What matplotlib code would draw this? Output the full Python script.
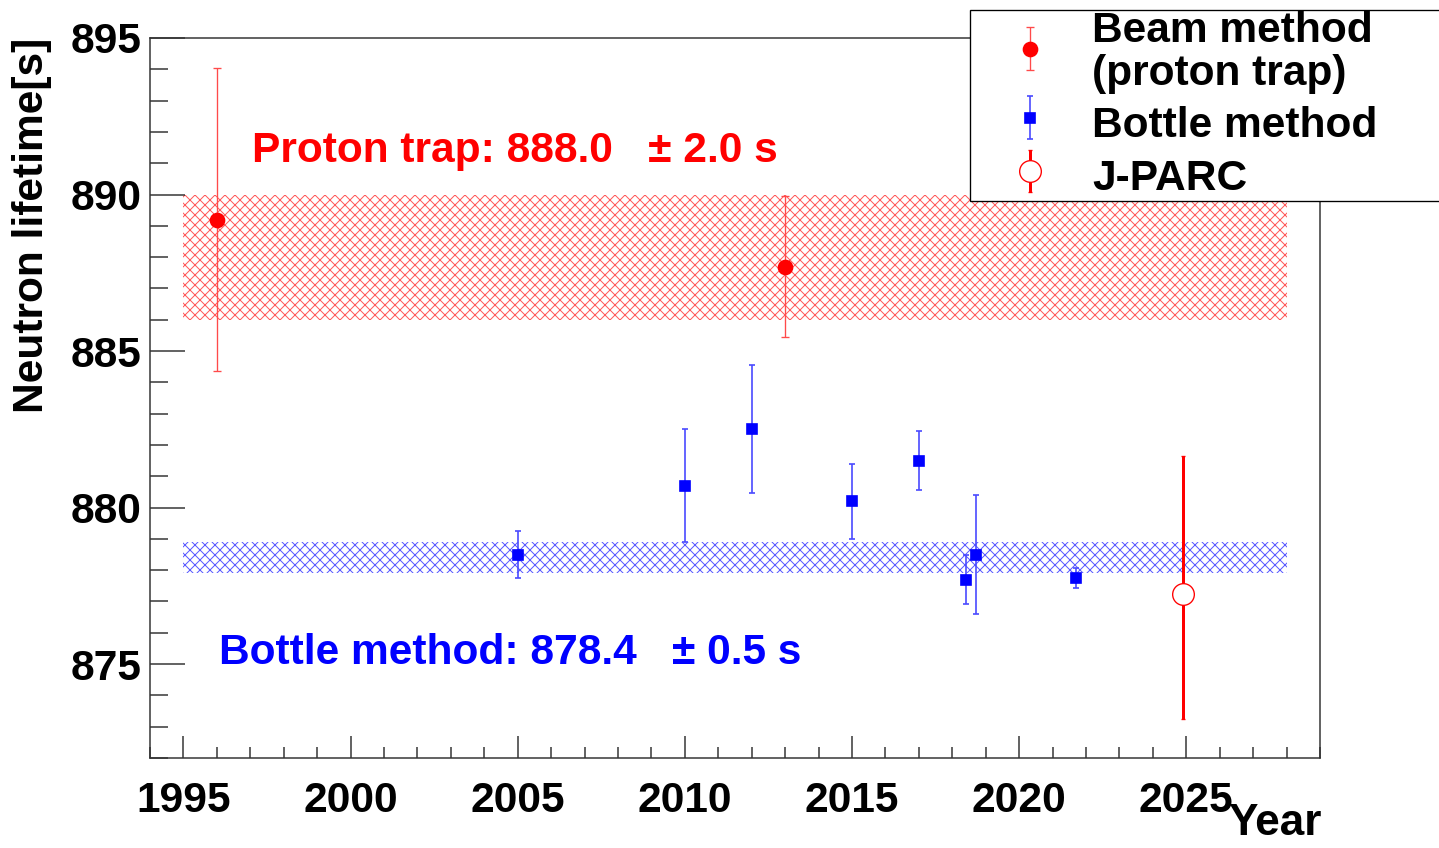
"""
Neutron lifetime measurements vs year: beam (proton trap), bottle and J-PARC,
with the proton-trap and bottle averages drawn as hatched bands.
"""

import matplotlib
matplotlib.use("Agg")
import matplotlib.pyplot as plt
from matplotlib.ticker import MultipleLocator

# --- data -------------------------------------------------------------------
beam_year = [1996.0, 2013.0]
beam_tau = [889.2, 887.7]
beam_err = [4.85, 2.25]

bottle_year = [2005.0, 2010.0, 2012.0, 2015.0, 2017.0, 2018.4, 2018.7, 2021.7]
bottle_tau = [878.5, 880.7, 882.5, 880.2, 881.5, 877.7, 878.5, 877.75]
bottle_err = [0.75, 1.8, 2.05, 1.2, 0.93, 0.77, 1.9, 0.33]

jparc_year = [2024.9]
jparc_tau = [877.25]
jparc_err_lo = [4.0]
jparc_err_hi = [4.4]

# averages shown as bands
proton_mean, proton_err = 888.0, 2.0
bottle_mean, bottle_err_avg = 878.4, 0.5
band_x = [1995, 2028]

# --- style ------------------------------------------------------------------
DPI = 120
FONT = "Liberation Sans"
plt.rcParams["font.family"] = [FONT, "DejaVu Sans"]
plt.rcParams["font.weight"] = "bold"
plt.rcParams["hatch.linewidth"] = 0.6
AXCOL = "#333333"
FS = 25.5

fig = plt.figure(figsize=(1439 / DPI, 848 / DPI), dpi=DPI)
ax = fig.add_axes([150 / 1439, 90 / 848, 1170 / 1439, 720 / 848])

# bands
ax.fill_between(band_x, proton_mean - proton_err, proton_mean + proton_err,
                facecolor="none", edgecolor="#ff5a5a", hatch="xxxx", linewidth=0, zorder=1)
ax.fill_between(band_x, bottle_mean - bottle_err_avg, bottle_mean + bottle_err_avg,
                facecolor="none", edgecolor="#5a5aff", hatch="xxxx", linewidth=0, zorder=1)

# points
h_beam = ax.errorbar(beam_year, beam_tau, yerr=beam_err, fmt="o", color="red",
                     ecolor="#ff4a4a", elinewidth=0.8, capsize=2.2, capthick=0.8,
                     markersize=8.4, zorder=3)
h_bottle = ax.errorbar(bottle_year, bottle_tau, yerr=bottle_err, fmt="s", color="blue",
                       ecolor="#4a4aff", elinewidth=1.0, capsize=1.9, capthick=1.0,
                       markersize=6, zorder=3)
h_jparc = ax.errorbar(jparc_year, jparc_tau, yerr=[jparc_err_lo, jparc_err_hi], fmt="o",
                      color="red", markerfacecolor="white", markeredgecolor="red",
                      markeredgewidth=0.8, ecolor="red", elinewidth=1.8, capsize=1.3,
                      capthick=1.8, markersize=13, zorder=3)

ax.text(1997.05, 891.05, f"Proton trap: {proton_mean:.1f}   \u00b1 {proton_err:.1f} s",
        color="red", fontsize=FS, fontweight="bold", va="baseline", ha="left")
ax.text(1996.05, 875.0, f"Bottle method: {bottle_mean:.1f}   \u00b1 {bottle_err_avg:.1f} s",
        color="blue", fontsize=FS, fontweight="bold", va="baseline", ha="left")

# axes
ax.set_xlim(1994, 2029)
ax.set_ylim(872, 895)
ax.xaxis.set_major_locator(MultipleLocator(5))
ax.xaxis.set_minor_locator(MultipleLocator(1))
ax.yaxis.set_major_locator(MultipleLocator(5))
ax.yaxis.set_minor_locator(MultipleLocator(1))
ax.tick_params(axis="both", which="both", direction="in", color=AXCOL,
               top=False, right=False, labelsize=FS)
ax.tick_params(axis="y", which="major", length=21, width=0.9, pad=5)
ax.tick_params(axis="y", which="minor", length=10.8, width=0.9)
ax.tick_params(axis="x", which="major", length=13, width=0.9, pad=14)
ax.tick_params(axis="x", which="minor", length=6.6, width=0.9)
for lab in ax.get_xticklabels() + ax.get_yticklabels():
    lab.set_fontweight("bold")
for sp in ax.spines.values():
    sp.set_color(AXCOL)
    sp.set_linewidth(0.9)

ax.set_ylabel("Neutron lifetime[s]", fontsize=FS, fontweight="bold", loc="top")
ax.yaxis.set_label_coords(-0.084, 1.0)
ax.set_xlabel("Year", fontsize=26.5, fontweight="bold", loc="right")
ax.xaxis.set_label_coords(1.0017, -0.062)

leg = ax.legend([h_beam, h_bottle, h_jparc],
                ["Beam method\n(proton trap)", "Bottle method", "J-PARC"],
                loc="upper left", mode="expand",
                bbox_to_anchor=(970 / 1439, 1 - 217 / 848, 0.4, 207 / 848),
                bbox_transform=fig.transFigure, borderaxespad=0,
                prop={"family": FONT, "weight": "bold", "size": FS},
                frameon=True, fancybox=False, framealpha=1, edgecolor="black",
                borderpad=0.02, handlelength=2.8, handleheight=1.4,
                handletextpad=0.05, labelspacing=0.1)
leg.get_frame().set_linewidth(0.8)
for t in leg.get_texts():
    t.set_linespacing(1.1)

fig.savefig("out.png", dpi=DPI)
